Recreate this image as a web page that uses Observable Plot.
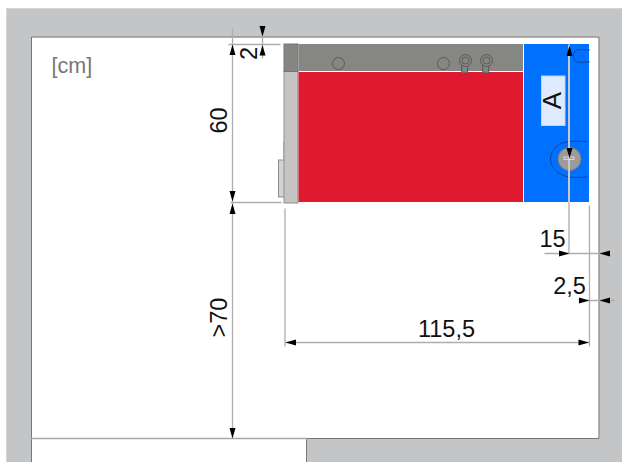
<!DOCTYPE html>
<html><head><meta charset="utf-8">
<script src="https://cdn.jsdelivr.net/npm/d3@7"></script>
<script src="https://cdn.jsdelivr.net/npm/@observablehq/plot@0.6"></script>
<style>html,body{margin:0;padding:0;background:#fff;overflow:hidden}svg{display:block;background:#fff}</style>
</head><body><div id="c"></div>
<script>
// Floor-plan geometry in diagram units; the Plot scales map them to the page.
const wallPolygon = [[6,8],[622,8],[622,462],[306,462],[306,438],[598.5,438],[598.5,36.5],[31,36.5],[31,462],[6,462],[6,8]];
const roomOutline = [[31,462],[31,36.5],[598.5,36.5],[598.5,438],[306,438],[306,462]];
const floorLine = [[31,438],[306,438]];
const rects = [
  {x1:278.5,x2:284.5,y1:160,y2:197,fill:"#d2d2d0",stroke:"#8f8f8f"},
  {x1:284,x2:298,y1:71,y2:203,fill:"#c5c4c2",stroke:"#8f8f8f"},
  {x1:284,x2:298,y1:44,y2:71.5,fill:"#858583",stroke:"#777"},
  {x1:298.5,x2:523,y1:44,y2:71,fill:"#868684",stroke:"none"},
  {x1:298.5,x2:523,y1:72,y2:202,fill:"#e01830",stroke:"none"},
  {x1:524,x2:589,y1:44,y2:202,fill:"#0070ff",stroke:"none"},
  {x1:541.5,x2:565,y1:76,y2:125.5,fill:"#ddeaff",stroke:"#b9d4ff"},
  {x1:461.7,x2:467.7,y1:65,y2:73,fill:"#868684",stroke:"#555"},
  {x1:482.7,x2:488.7,y1:65,y2:73,fill:"#868684",stroke:"#555"}
];
const thinEdge = [{x1:283,y1:141,x2:283,y2:160}];
const circles = [
  {x:338,y:63,r:6,fill:"none",stroke:"#555"},
  {x:443,y:63,r:6,fill:"none",stroke:"#555"},
  {x:465,y:60,r:6,fill:"#868684",stroke:"#555"},
  {x:465,y:60,r:3.5,fill:"none",stroke:"#555"},
  {x:486,y:60,r:6,fill:"#868684",stroke:"#555"},
  {x:486,y:60,r:3.5,fill:"none",stroke:"#555"},
  {x:569,y:158.5,r:11.5,fill:"#9b9b9b",stroke:"#777"}
];
const slotLines = [
  {k:"top",x:589,y:49.5},{k:"top",x:577,y:49.5},{k:"top",x:573.5,y:52},{k:"top",x:573,y:55.5},{k:"top",x:573.5,y:59},{k:"top",x:577,y:61.5},{k:"top",x:589,y:61.5},
  {k:"ring",x:587,y:141},{k:"ring",x:569,y:141},{k:"ring",x:559,y:144},{k:"ring",x:552,y:151},{k:"ring",x:550,y:158.5},{k:"ring",x:552,y:166},{k:"ring",x:559,y:173},{k:"ring",x:569,y:176.5},{k:"ring",x:587,y:176.5}
];
const dimLines = [
  {x1:232,y1:28,x2:232,y2:438},{x1:228,y1:44,x2:280,y2:44},{x1:230,y1:202,x2:281,y2:202},
  {x1:262,y1:25,x2:262,y2:58},{x1:284.5,y1:208,x2:284.5,y2:346},{x1:589,y1:205,x2:589,y2:346},
  {x1:544,y1:253,x2:603,y2:253},{x1:578,y1:300,x2:614,y2:300},{x1:285,y1:342,x2:589,y2:342}
];
const bladeLine = [{x1:568.5,y1:44,x2:568.5,y2:253}];
const screwSlot = [{x1:564,x2:574,y1:157,y2:159.5}];
const arrows = [
  {x:232,y:44,d:"u"},{x:232,y:201,d:"d"},{x:232,y:203,d:"u"},{x:232,y:438,d:"d"},
  {x:262,y:36,d:"d"},{x:262,y:44.5,d:"u"},
  {x:569,y:45,d:"u"},{x:569,y:158,d:"d"},
  {x:569,y:253,d:"r"},{x:599,y:253,d:"l"},{x:589,y:300,d:"r"},{x:599,y:300,d:"l"},
  {x:285,y:342,d:"l"},{x:588.5,y:342,d:"r"}
];
const noteLabels = [{t:"[cm]",x:51,y:66}];
const partLabels = [{t:"A",x:552,y:100}];
const labels = [
  {t:"2",x:249,y:53,rot:-90},
  {t:"60",x:219,y:120,rot:-90},
  {t:">70",x:219,y:317,rot:-90},
  {t:"15",x:552,y:239,rot:0},
  {t:"2,5",x:569,y:286,rot:0},
  {t:"115,5",x:446,y:329,rot:0}
];

const L = 10.5, W = 3;
const arrowPts = arrows.flatMap((a, i) => {
  const [dx, dy] = {u:[0,1], d:[0,-1], l:[1,0], r:[-1,0]}[a.d];
  return [[0,0],[L*dx + W*dy, L*dy + W*dx],[L*dx - W*dy, L*dy - W*dx],[0,0]]
    .map(([ox, oy]) => ({i, x:a.x+ox, y:a.y+oy}));
});
const toPts = a => a.map(([x,y]) => ({x,y}));

const chart = Plot.plot({
  width:622, height:462, margin:0,
  x:{domain:[0,622], range:[0,622], axis:null},
  y:{domain:[0,462], range:[0,462], axis:null},
  r:{type:"identity"},
  style:{fontFamily:"'Liberation Sans',Arial,sans-serif", background:"#fff"},
  marks:[
    Plot.line(toPts(wallPolygon), {x:"x",y:"y",fill:"#c4c5c7",stroke:"#d4d4d4",strokeWidth:1,curve:"linear"}),
    Plot.line(toPts(roomOutline), {x:"x",y:"y",stroke:"#777",strokeWidth:1}),
    Plot.line(toPts(floorLine), {x:"x",y:"y",stroke:"#aaa",strokeWidth:1.5}),
    Plot.rect(rects, {x1:"x1",x2:"x2",y1:"y1",y2:"y2",fill:d=>d.fill,stroke:d=>d.stroke,strokeWidth:1}),
    Plot.link(thinEdge, {x1:"x1",y1:"y1",x2:"x2",y2:"y2",stroke:"#aaa",strokeWidth:1}),
    Plot.dot(circles, {x:"x",y:"y",r:"r",fill:d=>d.fill,stroke:d=>d.stroke,strokeWidth:0.9}),
    Plot.line(slotLines, {x:"x",y:"y",z:"k",stroke:"#0b3f8c",strokeWidth:0.9,curve:"catmull-rom"}),
    Plot.link(dimLines, {x1:"x1",y1:"y1",x2:"x2",y2:"y2",stroke:"#adadad",strokeWidth:1.3}),
    Plot.link(bladeLine, {x1:"x1",y1:"y1",x2:"x2",y2:"y2",stroke:"#c8c8c8",strokeWidth:2}),
    Plot.rect(screwSlot, {x1:"x1",x2:"x2",y1:"y1",y2:"y2",fill:"none",stroke:"#e6e6e6",strokeWidth:0.8}),
    Plot.line(arrowPts, {x:"x",y:"y",z:"i",fill:"#000",stroke:"none"}),
    Plot.text(noteLabels, {x:"x",y:"y",text:"t",fontSize:21.5,fill:"#777",textAnchor:"start"}),
    Plot.text(partLabels, {x:"x",y:"y",text:"t",fontSize:26,rotate:-90,fill:"#111"}),
    Plot.text(labels, {x:"x",y:"y",text:"t",fontSize:23.5,rotate:"rot",fill:"#111"})
  ]
});
document.getElementById("c").append(chart);
</script></body></html>
